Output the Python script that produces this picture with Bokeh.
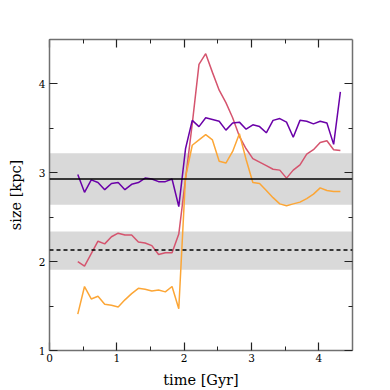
from bokeh.plotting import figure
from bokeh.models import FixedTicker, LinearAxis, Range1d, BoxAnnotation, Span
from bokeh.embed import file_html
from bokeh.resources import INLINE

# ---- data ----
time_gyr = [0.42, 0.52, 0.62, 0.72, 0.82, 0.92, 1.02, 1.12, 1.22, 1.32,
            1.42, 1.52, 1.62, 1.72, 1.82, 1.92, 2.02, 2.12, 2.22, 2.32,
            2.42, 2.52, 2.62, 2.72, 2.82, 2.92, 3.02, 3.12, 3.22, 3.32,
            3.42, 3.52, 3.62, 3.72, 3.82, 3.92, 4.02, 4.12, 4.22, 4.32]

size_purple = [2.98, 2.78, 2.92, 2.89, 2.81, 2.88, 2.89, 2.81, 2.87, 2.89,
               2.94, 2.93, 2.90, 2.90, 2.93, 2.62, 3.27, 3.59, 3.52, 3.62,
               3.60, 3.58, 3.48, 3.56, 3.57, 3.49, 3.54, 3.52, 3.45, 3.59,
               3.61, 3.57, 3.40, 3.59, 3.58, 3.55, 3.58, 3.56, 3.32, 3.91]

size_red = [2.00, 1.95, 2.09, 2.23, 2.20, 2.28, 2.32, 2.30, 2.30, 2.22,
            2.21, 2.18, 2.08, 2.10, 2.10, 2.31, 2.93, 3.55, 4.22, 4.34,
            4.13, 3.93, 3.79, 3.62, 3.41, 3.27, 3.16, 3.12, 3.08, 3.04,
            3.03, 2.94, 3.03, 3.09, 3.21, 3.26, 3.34, 3.36, 3.26, 3.25]

size_orange = [1.41, 1.72, 1.58, 1.61, 1.52, 1.51, 1.49, 1.57, 1.64, 1.70,
               1.69, 1.67, 1.68, 1.66, 1.72, 1.47, 2.95, 3.31, 3.37, 3.43,
               3.37, 3.13, 3.11, 3.24, 3.44, 3.15, 2.89, 2.88, 2.80, 2.72,
               2.65, 2.63, 2.65, 2.67, 2.71, 2.76, 2.83, 2.80, 2.79, 2.79]

ref_solid = 2.93
band_solid = (2.64, 3.22)
ref_dashed = 2.13
band_dashed = (1.91, 2.34)

x_major = [0, 1, 2, 3, 4]
x_minor = [0.5, 1.5, 2.5, 3.5]
y_major = [1, 2, 3, 4]
y_minor = [1.5, 2.5, 3.5]

FONT = "DejaVu Serif"

p = figure(frame_width=303, frame_height=311, output_backend="svg",
           toolbar_location=None, x_range=Range1d(0, 4.5), y_range=Range1d(1, 4.5),
           min_border_left=49, min_border_top=39, min_border_right=14, min_border_bottom=38,
           background_fill_color="white", border_fill_color="white")
p.grid.visible = False
p.outline_line_color = None

for lo, hi in (band_solid, band_dashed):
    p.add_layout(BoxAnnotation(bottom=lo, top=hi, fill_color="#d9d9d9", fill_alpha=1.0,
                               line_color=None, level="underlay"))

p.add_layout(Span(location=ref_solid, dimension="width", line_color="black", line_width=1.5))
p.add_layout(Span(location=ref_dashed, dimension="width", line_color="black", line_width=1.5,
                  line_dash="4 3"))

p.line(time_gyr, size_red, line_color="#d5546e", line_width=1.5)
p.line(time_gyr, size_orange, line_color="#fca636", line_width=1.5)
p.line(time_gyr, size_purple, line_color="#6a00a8", line_width=1.5)

def style(ax, ticks, minor, labels=True):
    ax.ticker = FixedTicker(ticks=ticks, minor_ticks=minor)
    ax.axis_line_color = "#707070"
    ax.axis_line_width = 1.5
    ax.major_tick_in = 8
    ax.major_tick_out = 0
    ax.minor_tick_in = 4
    ax.minor_tick_out = 0
    ax.major_tick_line_color = "#222222"
    ax.minor_tick_line_color = "#222222"
    ax.major_tick_line_width = 1.2
    ax.minor_tick_line_width = 1.0
    ax.major_label_text_font = FONT
    ax.major_label_text_font_size = "10.5px"
    ax.major_label_text_color = "black"
    ax.axis_label_text_font = FONT
    ax.axis_label_text_font_size = "14.5px"
    ax.axis_label_text_font_style = "normal"
    ax.axis_label_text_color = "black"
    if not labels:
        ax.major_label_overrides = {t: "" for t in ticks}
        ax.major_label_standoff = 0

style(p.xaxis[0], x_major, x_minor)
style(p.yaxis[0], y_major, y_minor)
p.xaxis[0].axis_label = "time [Gyr]"
p.yaxis[0].axis_label = "size [kpc]"
p.xaxis[0].major_label_standoff = 3
p.xaxis[0].axis_label_standoff = 7
p.yaxis[0].major_label_standoff = 4
p.yaxis[0].axis_label_standoff = 12

top = LinearAxis()
style(top, x_major, x_minor, labels=False)
p.add_layout(top, "above")
right = LinearAxis()
style(right, y_major, y_minor, labels=False)
p.add_layout(right, "right")

open("out.html", "w").write(file_html(p, INLINE))
